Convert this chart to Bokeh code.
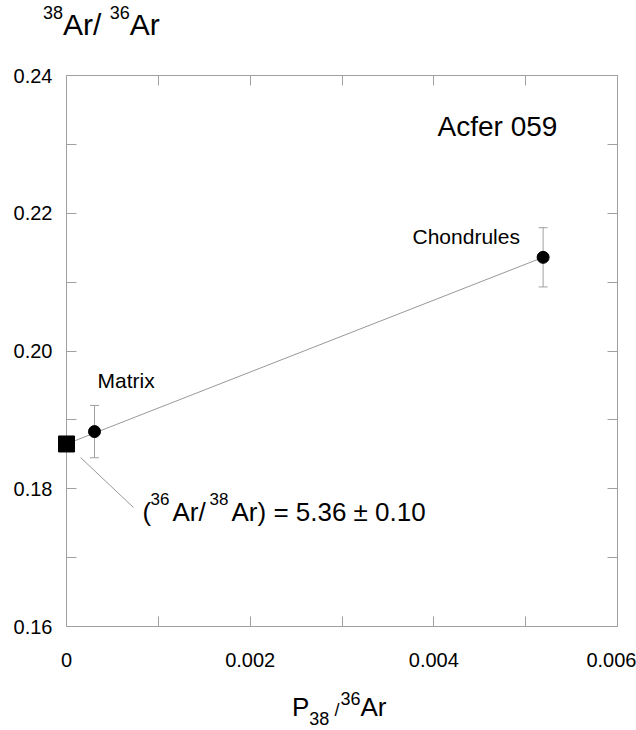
from bokeh.plotting import figure
from bokeh.models import (ColumnDataSource, Whisker, TeeHead, Label, LinearAxis,
                          FixedTicker, Div)
from bokeh.layouts import column
from bokeh.embed import file_html
from bokeh.resources import INLINE

# ---------------- data ----------------
samples = ["Matrix", "Chondrules"]
p38_ar36 = [0.000305, 0.00519]          # x : P38/36Ar
ar38_ar36 = [0.1883, 0.2136]            # y : 38Ar/36Ar
ar38_err = [0.0038, 0.0043]             # +/- error

intercept_x = [0.0]
intercept_y = [0.1865]                  # trapped component (36/38 = 5.36)

x_ticks = [0.0, 0.002, 0.004, 0.006]
x_tick_labels = ["0", "0.002", "0.004", "0.006"]
x_minor = [0.001, 0.003, 0.005]
y_ticks = [0.16, 0.18, 0.20, 0.22, 0.24]
y_tick_labels = ["0.16", "0.18", "0.20", "0.22", "0.24"]
y_minor = [0.17, 0.19, 0.21, 0.23]

X0, X1 = 0.0, 0.006
Y0, Y1 = 0.16, 0.24

GRAY = "#a0a0a0"
FONT = "Liberation Sans"

# page geometry (px): x = 0 at FL, top of y range at FT
FL, FT, FW, FH = 66, 75, 551, 551
PAD = 9                                  # room left of x = 0 for the square
TOP_H = 40                               # height of the title strip
DX = (X1 - X0) / FW
TXT_SHIFT = 8                            # label baseline correction (px)


def dx(px):
    return X0 + (px - FL) * DX


def dy(py):
    return Y1 - (py - FT) / FH * (Y1 - Y0)


p = figure(frame_width=FW + PAD, frame_height=FH,
           x_range=(X0 - PAD * DX, X1), y_range=(Y0, Y1),
           output_backend="svg", toolbar_location=None,
           min_border_left=FL - PAD, min_border_right=636 - FL - FW,
           min_border_top=FT - TOP_H, min_border_bottom=60,
           x_axis_location=None, y_axis_location=None)
p.grid.visible = False
p.outline_line_color = None
p.background_fill_color = "white"
p.border_fill_color = "white"


def style_axis(ax):
    ax.axis_line_color = GRAY
    ax.major_tick_line_color = GRAY
    ax.minor_tick_line_color = GRAY
    ax.major_tick_in = 10
    ax.major_tick_out = 0
    ax.minor_tick_in = 10
    ax.minor_tick_out = 0
    ax.major_label_text_font = FONT
    ax.major_label_text_font_size = "20px"
    ax.major_label_text_color = "black"


# left axis: labels only (at the frame edge)
ylab = LinearAxis(ticker=FixedTicker(ticks=y_ticks, minor_ticks=[]))
style_axis(ylab)
ylab.axis_line_color = None
ylab.major_tick_line_color = None
ylab.major_label_overrides = {t: l for t, l in zip(y_tick_labels and y_ticks, y_tick_labels)}
ylab.major_label_standoff = 5
p.add_layout(ylab, "left")

# left axis line and ticks at x = 0
yline = LinearAxis(ticker=FixedTicker(ticks=[], minor_ticks=y_ticks + y_minor),
                   fixed_location=X0)
style_axis(yline)
yline.major_label_standoff = 0
p.add_layout(yline, "left")

# bottom axis with labels
xax = LinearAxis(ticker=FixedTicker(ticks=x_ticks, minor_ticks=x_minor),
                 bounds=(X0, X1))
style_axis(xax)
xax.major_label_overrides = {t: l for t, l in zip(x_ticks, x_tick_labels)}
xax.major_label_standoff = 26
p.add_layout(xax, "below")

# right / top axes: ticks only
rax = LinearAxis(ticker=FixedTicker(ticks=[], minor_ticks=y_ticks + y_minor))
style_axis(rax)
p.add_layout(rax, "right")
tax = LinearAxis(ticker=FixedTicker(ticks=[], minor_ticks=x_ticks + x_minor),
                 bounds=(X0, X1))
style_axis(tax)
p.add_layout(tax, "above")

# fit line from trapped component to chondrules
fit_x = [intercept_x[0], p38_ar36[1]]
fit_y = [intercept_y[0], ar38_ar36[1]]
p.line(fit_x, fit_y, line_color="#999999", line_width=1)

# error bars
src = ColumnDataSource(dict(
    x=p38_ar36, y=ar38_ar36,
    upper=[v + e for v, e in zip(ar38_ar36, ar38_err)],
    lower=[v - e for v, e in zip(ar38_ar36, ar38_err)],
))
wh = Whisker(base="x", upper="upper", lower="lower", source=src,
             line_color=GRAY, line_width=1, level="underlay",
             upper_head=TeeHead(size=9, line_color=GRAY, line_width=1),
             lower_head=TeeHead(size=9, line_color=GRAY, line_width=1))
p.add_layout(wh)

p.scatter("x", "y", source=src, marker="circle", size=12,
          fill_color="black", line_color="black")
sq = p.scatter(intercept_x, intercept_y, marker="square", size=16,
               fill_color="black", line_color="black")
sq.level = "overlay"

# leader line to the annotation
leader_x = [dx(80), dx(133)]
leader_y = [dy(457), dy(507)]
p.line(leader_x, leader_y, line_color="#999999", line_width=1)


def lab(text, px, py, size):
    p.add_layout(Label(x=dx(px), y=dy(py - TXT_SHIFT), text=text, text_font=FONT,
                       text_font_size=f"{size}px", text_color="black",
                       text_align="left", text_baseline="alphabetic"))


# in-plot texts
lab("Acfer 059", 437, 134, 28)
lab(samples[1], 412, 244, 21)
lab(samples[0], 97, 388, 21)

# annotation (36Ar/38Ar) = 5.36 ± 0.10
lab("(", 142, 519, 26)
lab("36", 150, 506, 17)
lab("Ar/", 172, 519, 26)
lab("38", 209, 506, 17)
lab("Ar) = 5.36 \u00b1 0.10", 231, 519, 26)

# axis titles as HTML text (super/subscripts)
FONT_CSS = "font-family:'Liberation Sans',Arial,sans-serif;color:black;white-space:nowrap;"
y_title = ('<div style="' + FONT_CSS + 'font-size:30px;line-height:30px;'
           'padding:10px 0 0 43px;">'
           '<span style="font-size:18px;position:relative;top:-16px;">38</span>'
           'Ar/ '
           '<span style="font-size:18px;position:relative;top:-16px;">36</span>'
           'Ar</div>')
x_title = ('<div style="' + FONT_CSS + 'font-size:26px;line-height:26px;'
           'padding:8px 0 0 292px;">'
           'P<span style="font-size:18px;position:relative;top:9px;">38</span>'
           '<span style="font-size:18px;margin-left:5px;">/</span>'
           '<span style="font-size:18px;position:relative;top:-11px;margin-left:1px;">36</span>'
           'Ar</div>')

top_div = Div(text=y_title, width=636, height=TOP_H, margin=(0, 0, 0, 0))
bot_div = Div(text=x_title, width=636, height=43, margin=(0, 0, 0, 0))

layout = column(top_div, p, bot_div, spacing=0, margin=(0, 0, 0, 0))

open("out.html", "w").write(file_html(layout, INLINE))
